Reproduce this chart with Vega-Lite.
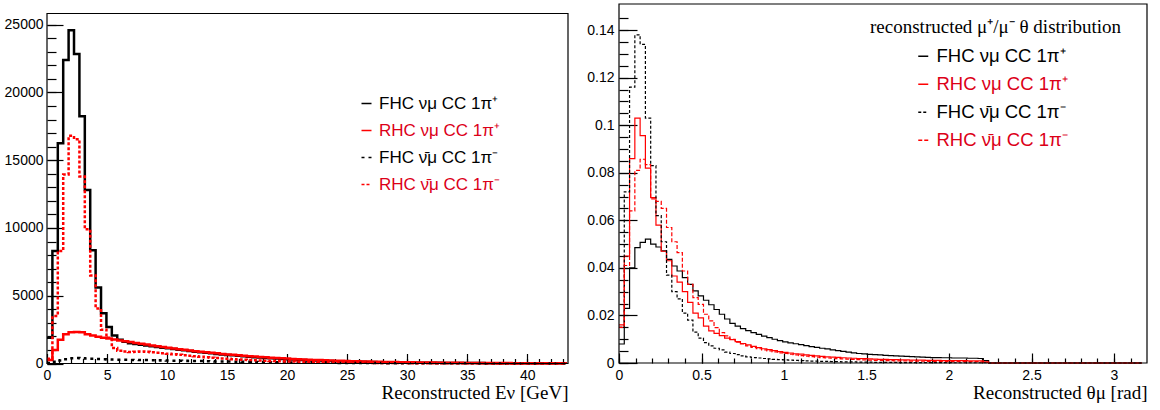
{
"$schema": "https://vega.github.io/schema/vega-lite/v6.json",
"padding": {"left": 4, "top": 3, "right": 0, "bottom": 0},
"background": "white",
"spacing": 15,
"config": {
 "view": {"stroke": null},
 "axis": {"labelFont": "Liberation Sans", "labelFontSize": 14, "labelColor": "#000000", "tickColor": "#000000", "tickWidth": 1.2, "ticks": true, "domain": false, "grid": false, "labelOverlap": false, "labelFlush": false, "titleFont": "Liberation Serif", "titleFontSize": 19, "titleFontWeight": "normal", "titleColor": "#000000"},
 "legend": {"labelFont": "Liberation Sans", "labelColor": "#000000"}
},
"datasets": {
"e": [
{"x":0,"a":1900,"b":250,"c":30,"d":350},
{"x":0.45,"a":8300,"b":1000,"c":120,"d":3500},
{"x":0.9,"a":16250,"b":1750,"c":230,"d":8300},
{"x":1.35,"a":22400,"b":2150,"c":320,"d":13950},
{"x":1.8,"a":24600,"b":2300,"c":380,"d":16800},
{"x":2.25,"a":22850,"b":2330,"c":400,"d":16550},
{"x":2.7,"a":18250,"b":2300,"c":390,"d":13800},
{"x":3.15,"a":12800,"b":2150,"c":370,"d":9900},
{"x":3.6,"a":8350,"b":2060,"c":350,"d":6500},
{"x":4.05,"a":5600,"b":1980,"c":330,"d":4050},
{"x":4.5,"a":3700,"b":1900,"c":310,"d":2500},
{"x":4.95,"a":2700,"b":1840,"c":300,"d":1900},
{"x":5.4,"a":2060,"b":1780,"c":290,"d":1150},
{"x":5.85,"a":1750,"b":1700,"c":280,"d":950},
{"x":6.3,"a":1600,"b":1640,"c":270,"d":880},
{"x":6.75,"a":1500,"b":1580,"c":265,"d":850},
{"x":7.2,"a":1440,"b":1520,"c":260,"d":860},
{"x":7.65,"a":1380,"b":1460,"c":255,"d":880},
{"x":8.1,"a":1330,"b":1400,"c":250,"d":860},
{"x":8.55,"a":1270,"b":1330,"c":240,"d":830},
{"x":9,"a":1220,"b":1270,"c":235,"d":800},
{"x":9.45,"a":1170,"b":1210,"c":228,"d":760},
{"x":9.9,"a":1120,"b":1160,"c":220,"d":720},
{"x":10.35,"a":1070,"b":1110,"c":212,"d":680},
{"x":10.8,"a":1020,"b":1060,"c":205,"d":640},
{"x":11.25,"a":970,"b":1010,"c":198,"d":600},
{"x":11.7,"a":920,"b":960,"c":190,"d":565},
{"x":12.15,"a":870,"b":910,"c":183,"d":530},
{"x":12.6,"a":830,"b":870,"c":176,"d":495},
{"x":13.05,"a":790,"b":830,"c":170,"d":460},
{"x":13.5,"a":750,"b":790,"c":163,"d":430},
{"x":13.95,"a":710,"b":750,"c":156,"d":400},
{"x":14.4,"a":670,"b":710,"c":150,"d":370},
{"x":14.85,"a":630,"b":670,"c":144,"d":345},
{"x":15.3,"a":600,"b":640,"c":138,"d":320},
{"x":15.75,"a":565,"b":600,"c":132,"d":300},
{"x":16.2,"a":535,"b":570,"c":126,"d":280},
{"x":16.65,"a":500,"b":540,"c":120,"d":260},
{"x":17.1,"a":470,"b":510,"c":114,"d":240},
{"x":17.55,"a":440,"b":480,"c":108,"d":222},
{"x":18,"a":415,"b":455,"c":103,"d":205},
{"x":18.45,"a":390,"b":430,"c":98,"d":190},
{"x":18.9,"a":365,"b":405,"c":93,"d":176},
{"x":19.35,"a":340,"b":380,"c":88,"d":163},
{"x":19.8,"a":320,"b":360,"c":83,"d":150},
{"x":20.25,"a":300,"b":340,"c":78,"d":140},
{"x":20.7,"a":280,"b":320,"c":74,"d":130},
{"x":21.15,"a":262,"b":300,"c":70,"d":120},
{"x":21.6,"a":245,"b":282,"c":66,"d":111},
{"x":22.05,"a":230,"b":265,"c":62,"d":103},
{"x":22.5,"a":215,"b":250,"c":58,"d":96},
{"x":22.95,"a":200,"b":235,"c":55,"d":89},
{"x":23.4,"a":187,"b":220,"c":52,"d":82},
{"x":23.85,"a":175,"b":207,"c":49,"d":76},
{"x":24.3,"a":163,"b":195,"c":46,"d":70},
{"x":24.75,"a":152,"b":183,"c":43,"d":65},
{"x":25.2,"a":142,"b":172,"c":40,"d":60},
{"x":25.65,"a":132,"b":162,"c":38,"d":56},
{"x":26.1,"a":123,"b":152,"c":36,"d":52},
{"x":26.55,"a":115,"b":143,"c":34,"d":48},
{"x":27,"a":107,"b":134,"c":32,"d":44},
{"x":27.45,"a":100,"b":126,"c":30,"d":41},
{"x":27.9,"a":93,"b":118,"c":28,"d":38},
{"x":28.35,"a":87,"b":111,"c":26,"d":35},
{"x":28.8,"a":81,"b":104,"c":24,"d":32},
{"x":29.25,"a":76,"b":98,"c":23,"d":30},
{"x":29.7,"a":71,"b":92,"c":21,"d":28},
{"x":30.15,"a":66,"b":86,"c":20,"d":26},
{"x":30.6,"a":62,"b":81,"c":19,"d":24},
{"x":31.05,"a":58,"b":76,"c":18,"d":22},
{"x":31.5,"a":54,"b":71,"c":17,"d":20},
{"x":31.95,"a":50,"b":67,"c":16,"d":19},
{"x":32.4,"a":47,"b":63,"c":15,"d":18},
{"x":32.85,"a":44,"b":59,"c":14,"d":17},
{"x":33.3,"a":41,"b":55,"c":13,"d":16},
{"x":33.75,"a":38,"b":52,"c":12,"d":15},
{"x":34.2,"a":36,"b":49,"c":11,"d":14},
{"x":34.65,"a":34,"b":46,"c":10,"d":13},
{"x":35.1,"a":32,"b":43,"c":10,"d":12},
{"x":35.55,"a":30,"b":40,"c":9,"d":11},
{"x":36,"a":28,"b":38,"c":9,"d":10},
{"x":36.45,"a":26,"b":36,"c":8,"d":10},
{"x":36.9,"a":24,"b":34,"c":8,"d":9},
{"x":37.35,"a":23,"b":32,"c":7,"d":9},
{"x":37.8,"a":21,"b":30,"c":7,"d":8},
{"x":38.25,"a":20,"b":28,"c":6,"d":8},
{"x":38.7,"a":19,"b":26,"c":6,"d":7},
{"x":39.15,"a":18,"b":25,"c":6,"d":7},
{"x":39.6,"a":17,"b":23,"c":5,"d":6},
{"x":40.05,"a":16,"b":22,"c":5,"d":6},
{"x":40.5,"a":15,"b":21,"c":5,"d":6},
{"x":40.95,"a":14,"b":20,"c":4,"d":5},
{"x":41.4,"a":13,"b":19,"c":4,"d":5},
{"x":41.85,"a":12,"b":18,"c":4,"d":5},
{"x":42.3,"a":11,"b":17,"c":4,"d":4},
{"x":42.75,"a":11,"b":16,"c":3,"d":4},
{"x":43.2,"a":10,"b":15,"c":3,"d":4}
],
"t": [
{"x":0,"a":0.008,"b":0.016,"c":0.015,"d":0.015},
{"x":0.032,"a":0.023,"b":0.045,"c":0.072,"d":0.041},
{"x":0.064,"a":0.040,"b":0.086,"c":0.116,"d":0.064},
{"x":0.096,"a":0.0485,"b":0.103,"c":0.138,"d":0.081},
{"x":0.128,"a":0.0507,"b":0.0956,"c":0.134,"d":0.0857},
{"x":0.16,"a":0.0521,"b":0.082,"c":0.103,"d":0.0834},
{"x":0.192,"a":0.050,"b":0.0696,"c":0.083,"d":0.069},
{"x":0.224,"a":0.0488,"b":0.058,"c":0.062,"d":0.068},
{"x":0.256,"a":0.0472,"b":0.047,"c":0.051,"d":0.065},
{"x":0.288,"a":0.0436,"b":0.043,"c":0.037,"d":0.057},
{"x":0.32,"a":0.0408,"b":0.0366,"c":0.030,"d":0.051},
{"x":0.352,"a":0.0387,"b":0.034,"c":0.027,"d":0.0464},
{"x":0.384,"a":0.0359,"b":0.030,"c":0.021,"d":0.0387},
{"x":0.416,"a":0.0331,"b":0.0255,"c":0.018,"d":0.0331},
{"x":0.448,"a":0.0303,"b":0.021,"c":0.013,"d":0.0275},
{"x":0.48,"a":0.0282,"b":0.019,"c":0.0105,"d":0.0247},
{"x":0.512,"a":0.0264,"b":0.0155,"c":0.0086,"d":0.0205},
{"x":0.544,"a":0.0245,"b":0.0135,"c":0.0072,"d":0.0177},
{"x":0.576,"a":0.0225,"b":0.0125,"c":0.0062,"d":0.0149},
{"x":0.608,"a":0.0205,"b":0.0115,"c":0.0055,"d":0.0128},
{"x":0.64,"a":0.0185,"b":0.0105,"c":0.0046,"d":0.0114},
{"x":0.672,"a":0.0167,"b":0.0098,"c":0.0040,"d":0.0100},
{"x":0.704,"a":0.0155,"b":0.0090,"c":0.0035,"d":0.0088},
{"x":0.736,"a":0.0145,"b":0.0082,"c":0.0030,"d":0.0080},
{"x":0.768,"a":0.0136,"b":0.0076,"c":0.0026,"d":0.0072},
{"x":0.8,"a":0.0128,"b":0.0070,"c":0.0023,"d":0.0066},
{"x":0.832,"a":0.0120,"b":0.0065,"c":0.0021,"d":0.0060},
{"x":0.864,"a":0.0113,"b":0.0060,"c":0.0019,"d":0.0055},
{"x":0.896,"a":0.0107,"b":0.0056,"c":0.0017,"d":0.0051},
{"x":0.928,"a":0.0100,"b":0.0052,"c":0.0015,"d":0.0047},
{"x":0.96,"a":0.0094,"b":0.0048,"c":0.0014,"d":0.0043},
{"x":0.992,"a":0.0089,"b":0.0045,"c":0.0013,"d":0.0040},
{"x":1.024,"a":0.0085,"b":0.0042,"c":0.0012,"d":0.0037},
{"x":1.056,"a":0.0081,"b":0.0039,"c":0.0011,"d":0.0034},
{"x":1.088,"a":0.0077,"b":0.0037,"c":0.0010,"d":0.0031},
{"x":1.12,"a":0.0073,"b":0.0034,"c":0.0009,"d":0.0029},
{"x":1.152,"a":0.0069,"b":0.0032,"c":0.0008,"d":0.0027},
{"x":1.184,"a":0.0066,"b":0.0030,"c":0.0008,"d":0.0025},
{"x":1.216,"a":0.0062,"b":0.0028,"c":0.0007,"d":0.0023},
{"x":1.248,"a":0.0059,"b":0.0026,"c":0.0007,"d":0.0021},
{"x":1.28,"a":0.0055,"b":0.0025,"c":0.0006,"d":0.0020},
{"x":1.312,"a":0.0052,"b":0.0024,"c":0.0006,"d":0.0018},
{"x":1.344,"a":0.0049,"b":0.0022,"c":0.0005,"d":0.0017},
{"x":1.376,"a":0.0046,"b":0.0021,"c":0.0005,"d":0.0016},
{"x":1.408,"a":0.0043,"b":0.0020,"c":0.0005,"d":0.0015},
{"x":1.44,"a":0.0040,"b":0.0019,"c":0.0004,"d":0.0014},
{"x":1.472,"a":0.0038,"b":0.0018,"c":0.0004,"d":0.0013},
{"x":1.504,"a":0.0036,"b":0.0017,"c":0.0004,"d":0.0012},
{"x":1.536,"a":0.0035,"b":0.0016,"c":0.0003,"d":0.0011},
{"x":1.568,"a":0.0034,"b":0.0015,"c":0.0003,"d":0.0011},
{"x":1.6,"a":0.0032,"b":0.0015,"c":0.0003,"d":0.0010},
{"x":1.632,"a":0.0031,"b":0.0014,"c":0.0003,"d":0.0010},
{"x":1.664,"a":0.0030,"b":0.0014,"c":0.0003,"d":0.0009},
{"x":1.696,"a":0.0029,"b":0.0013,"c":0.0002,"d":0.0009},
{"x":1.728,"a":0.0028,"b":0.0013,"c":0.0002,"d":0.0009},
{"x":1.76,"a":0.0027,"b":0.0012,"c":0.0002,"d":0.0008},
{"x":1.792,"a":0.0026,"b":0.0012,"c":0.0002,"d":0.0008},
{"x":1.824,"a":0.0025,"b":0.0012,"c":0.0002,"d":0.0008},
{"x":1.856,"a":0.0024,"b":0.0011,"c":0.0002,"d":0.0007},
{"x":1.888,"a":0.0023,"b":0.0011,"c":0.0002,"d":0.0007},
{"x":1.92,"a":0.0023,"b":0.0011,"c":0.0002,"d":0.0007},
{"x":1.952,"a":0.0022,"b":0.0010,"c":0.0002,"d":0.0007},
{"x":1.984,"a":0.0022,"b":0.0010,"c":0.0002,"d":0.0006},
{"x":2.016,"a":0.0021,"b":0.0010,"c":0.0001,"d":0.0006},
{"x":2.048,"a":0.0021,"b":0.0010,"c":0.0001,"d":0.0006},
{"x":2.08,"a":0.0021,"b":0.0010,"c":0.0001,"d":0.0006},
{"x":2.112,"a":0.0020,"b":0.0009,"c":0.0001,"d":0.0006},
{"x":2.144,"a":0.0020,"b":0.0009,"c":0.0001,"d":0.0006},
{"x":2.176,"a":0.0019,"b":0.0009,"c":0.0001,"d":0.0005},
{"x":2.208,"a":0.0010,"b":0.0005,"c":0.0001,"d":0.0003},
{"x":2.24,"a":0,"b":0,"c":0,"d":0},
{"x":2.272,"a":0,"b":0,"c":0,"d":0},
{"x":2.304,"a":0,"b":0,"c":0,"d":0},
{"x":2.336,"a":0,"b":0,"c":0,"d":0},
{"x":2.368,"a":0,"b":0,"c":0,"d":0},
{"x":2.4,"a":0,"b":0,"c":0,"d":0},
{"x":2.432,"a":0,"b":0,"c":0,"d":0},
{"x":2.464,"a":0,"b":0,"c":0,"d":0},
{"x":2.496,"a":0,"b":0,"c":0,"d":0},
{"x":2.528,"a":0,"b":0,"c":0,"d":0},
{"x":2.56,"a":0,"b":0,"c":0,"d":0},
{"x":2.592,"a":0,"b":0,"c":0,"d":0},
{"x":2.624,"a":0,"b":0,"c":0,"d":0},
{"x":2.656,"a":0,"b":0,"c":0,"d":0},
{"x":2.688,"a":0,"b":0,"c":0,"d":0},
{"x":2.72,"a":0,"b":0,"c":0,"d":0},
{"x":2.752,"a":0,"b":0,"c":0,"d":0},
{"x":2.784,"a":0,"b":0,"c":0,"d":0},
{"x":2.816,"a":0,"b":0,"c":0,"d":0},
{"x":2.848,"a":0,"b":0,"c":0,"d":0},
{"x":2.88,"a":0,"b":0,"c":0,"d":0},
{"x":2.912,"a":0,"b":0,"c":0,"d":0},
{"x":2.944,"a":0,"b":0,"c":0,"d":0},
{"x":2.976,"a":0,"b":0,"c":0,"d":0},
{"x":3.008,"a":0,"b":0,"c":0,"d":0},
{"x":3.04,"a":0,"b":0,"c":0,"d":0},
{"x":3.072,"a":0,"b":0,"c":0,"d":0},
{"x":3.104,"a":0,"b":0,"c":0,"d":0},
{"x":3.136,"a":0,"b":0,"c":0,"d":0},
{"x":3.168,"a":0,"b":0,"c":0,"d":0}
]
},
"hconcat": [
{
 "width": 521, "height": 359.5,
 "layer": [
 {
 "data": {"name": "e"},
 "transform": [{"fold": ["a","b","c","d"], "as": ["k","v"]}],
 "mark": {"type": "line", "interpolate": "step-after", "strokeWidth": 2.5},
 "encoding": {
  "x": {"field": "x", "type": "quantitative", "scale": {"domain": [0, 43.4], "nice": false, "zero": false},
   "axis": {"orient": "bottom", "values": [0,5,10,15,20,25,30,35,40], "format": "d", "tickSize": -10, "labelPadding": 15,
    "title": "Reconstructed Eν [GeV]", "titleAnchor": "end", "titlePadding": 1}},
  "y": {"field": "v", "type": "quantitative", "scale": {"domain": [0, 25830], "nice": false, "range": [359.5, 9.5]},
   "axis": {"orient": "left", "values": [0,5000,10000,15000,20000,25000], "format": "d", "tickSize": -16, "labelPadding": 20, "title": null}},
  "color": {"field": "k", "type": "nominal", "scale": {"domain": ["a","b","c","d"], "range": ["#000000","#ff0000","#000000","#ff0000"]},
   "legend": {"orient": "none", "legendX": 311, "legendY": 91, "title": null, "padding": 0, "symbolType": "stroke", "symbolSize": 100, "symbolStrokeWidth": 1.5,
    "labelFontSize": 17, "labelOffset": 4, "rowPadding": 9, "labelLimit": 300,
    "labelExpr": "{'a':'FHC νμ CC 1π⁺','b':'RHC νμ CC 1π⁺','c':'FHC ν̄μ CC 1π⁻','d':'RHC ν̄μ CC 1π⁻'}[datum.label]",
    "encode": {"labels": {"update": {"fill": {"signal": "(datum.value === 'b' || datum.value === 'd') ? '#dc0018' : '#000000'"}}}, "symbols": {"update": {"strokeWidth": {"value": 1.5}}}}}},
  "strokeDash": {"field": "k", "type": "nominal", "scale": {"domain": ["a","b","c","d"], "range": [[1,0],[1,0],[3,4],[3,2]]}}
 }
 },
 {
  "data": {"values": [{}]},
  "mark": {"type": "rect", "fill": null, "stroke": "#000000", "strokeWidth": 1.2},
  "encoding": {
   "x": {"datum": 0, "type": "quantitative",
    "axis": {"orient": "bottom", "values": [0,1,2,3,4,5,6,7,8,9,10,11,12,13,14,15,16,17,18,19,20,21,22,23,24,25,26,27,28,29,30,31,32,33,34,35,36,37,38,39,40,41,42,43], "labels": false, "title": null, "tickSize": -5}},
   "x2": {"datum": 43.4},
   "y": {"datum": 0, "type": "quantitative",
    "axis": {"orient": "left", "values": [0,1000,2000,3000,4000,5000,6000,7000,8000,9000,10000,11000,12000,13000,14000,15000,16000,17000,18000,19000,20000,21000,22000,23000,24000,25000], "labels": false, "title": null, "tickSize": -9}},
   "y2": {"datum": 25830}
  }
 }
 ],
 "resolve": {"axis": {"x": "independent", "y": "independent"}}
},
{
 "width": 528, "height": 359,
 "title": {"text": "reconstructed μ⁺/μ⁻ θ distribution", "font": "Liberation Serif", "fontSize": 19, "fontWeight": "normal", "color": "#000000", "anchor": "end", "frame": "group", "offset": -34, "dx": -26},
 "layer": [
 {
 "data": {"name": "t"},
 "transform": [{"fold": ["a","b","c","d"], "as": ["k","v"]}],
 "mark": {"type": "line", "interpolate": "step-after", "strokeWidth": 1.2},
 "encoding": {
  "x": {"field": "x", "type": "quantitative", "scale": {"domain": [0, 3.2], "nice": false, "zero": false},
   "axis": {"orient": "bottom", "values": [0,0.5,1,1.5,2,2.5,3], "format": "~g", "tickSize": -10, "labelPadding": 15,
    "title": "Reconstructed θμ [rad]", "titleAnchor": "end", "titlePadding": 1}},
  "y": {"field": "v", "type": "quantitative", "scale": {"domain": [0, 0.151], "nice": false},
   "axis": {"orient": "left", "values": [0,0.02,0.04,0.06,0.08,0.1,0.12,0.14], "format": "~g", "tickSize": -18, "labelPadding": 23, "title": null}},
  "color": {"field": "k", "type": "nominal", "scale": {"domain": ["a","b","c","d"], "range": ["#000000","#ff0000","#000000","#ff0000"]},
   "legend": {"orient": "none", "legendX": 295, "legendY": 43, "title": null, "padding": 0, "symbolType": "stroke", "symbolSize": 100, "symbolStrokeWidth": 1.5,
    "labelFontSize": 18.5, "labelOffset": 4, "rowPadding": 9, "labelLimit": 300,
    "labelExpr": "{'a':'FHC νμ CC 1π⁺','b':'RHC νμ CC 1π⁺','c':'FHC ν̄μ CC 1π⁻','d':'RHC ν̄μ CC 1π⁻'}[datum.label]",
    "encode": {"labels": {"update": {"fill": {"signal": "(datum.value === 'b' || datum.value === 'd') ? '#dc0018' : '#000000'"}}}, "symbols": {"update": {"strokeWidth": {"value": 1.5}}}}}},
  "strokeDash": {"field": "k", "type": "nominal", "scale": {"domain": ["a","b","c","d"], "range": [[1,0],[1,0],[3,2],[4,2]]}}
 }
 },
 {
  "data": {"values": [{}]},
  "mark": {"type": "rect", "fill": null, "stroke": "#000000", "strokeWidth": 1.2},
  "encoding": {
   "x": {"datum": 0, "type": "quantitative",
    "axis": {"orient": "bottom", "values": [0,0.1,0.2,0.3,0.4,0.5,0.6,0.7,0.8,0.9,1,1.1,1.2,1.3,1.4,1.5,1.6,1.7,1.8,1.9,2,2.1,2.2,2.3,2.4,2.5,2.6,2.7,2.8,2.9,3,3.1], "labels": false, "title": null, "tickSize": -5}},
   "x2": {"datum": 3.2},
   "y": {"datum": 0, "type": "quantitative",
    "axis": {"orient": "left", "values": [0,0.005,0.01,0.015,0.02,0.025,0.03,0.035,0.04,0.045,0.05,0.055,0.06,0.065,0.07,0.075,0.08,0.085,0.09,0.095,0.1,0.105,0.11,0.115,0.12,0.125,0.13,0.135,0.14,0.145], "labels": false, "title": null, "tickSize": -9}},
   "y2": {"datum": 0.151}
  }
 }
 ],
 "resolve": {"axis": {"x": "independent", "y": "independent"}}
}
],
"resolve": {"scale": {"color": "independent", "strokeDash": "independent"}, "legend": {"color": "independent", "strokeDash": "independent"}}
}
